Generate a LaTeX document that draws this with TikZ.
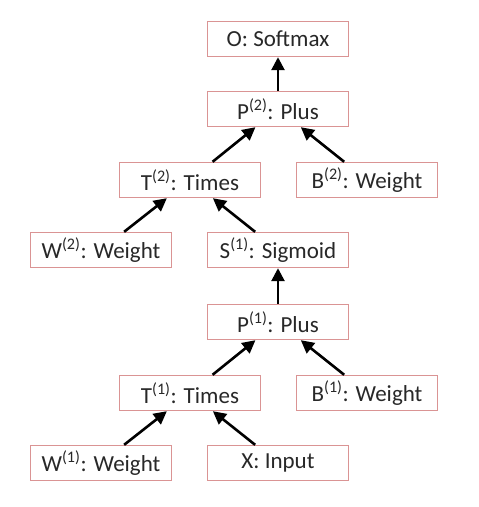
\documentclass[tikz,border=0pt]{standalone}
\usepackage{fontspec}
\setmainfont{Carlito}
\usetikzlibrary{arrows.meta}
\definecolor{boxred}{RGB}{218,148,148}
\definecolor{txt}{RGB}{40,40,40}
\tikzset{
  opbox/.style={draw=boxred, line width=1.4pt, fill=white, minimum width=141pt, minimum height=35pt, inner sep=0pt, font=\fontsize{23}{26}\selectfont, text=txt},
  conn/.style={line width=2.6pt, -{Triangle[length=13pt,width=13pt]}}
}
\begin{document}
\begin{tikzpicture}[x=1pt,y=-1pt]
\useasboundingbox (0,0) rectangle (479,507);
\node[opbox] (O) at (278,39) {O: Softmax};
\node[opbox] (P2) at (278,109) {P\textsuperscript{(2)}: Plus};
\node[opbox] (T2) at (190,180) {T\textsuperscript{(2)}: Times};
\node[opbox] (B2) at (367,180) {B\textsuperscript{(2)}: Weight};
\node[opbox] (W2) at (101,250) {W\textsuperscript{(2)}: Weight};
\node[opbox] (S1) at (278,250) {S\textsuperscript{(1)}: Sigmoid};
\node[opbox] (P1) at (278,322) {P\textsuperscript{(1)}: Plus};
\node[opbox] (T1) at (190,393) {T\textsuperscript{(1)}: Times};
\node[opbox] (B1) at (367,393) {B\textsuperscript{(1)}: Weight};
\node[opbox] (W1) at (101,463) {W\textsuperscript{(1)}: Weight};
\node[opbox] (X) at (278,463) {X: Input};
\draw[conn] (P2) -- (O);
\draw[conn] (T2) -- (P2);
\draw[conn] (B2) -- (P2);
\draw[conn] (W2) -- (T2);
\draw[conn] (S1) -- (T2);
\draw[conn] (P1) -- (S1);
\draw[conn] (T1) -- (P1);
\draw[conn] (B1) -- (P1);
\draw[conn] (W1) -- (T1);
\draw[conn] (X) -- (T1);
\end{tikzpicture}
\end{document}
